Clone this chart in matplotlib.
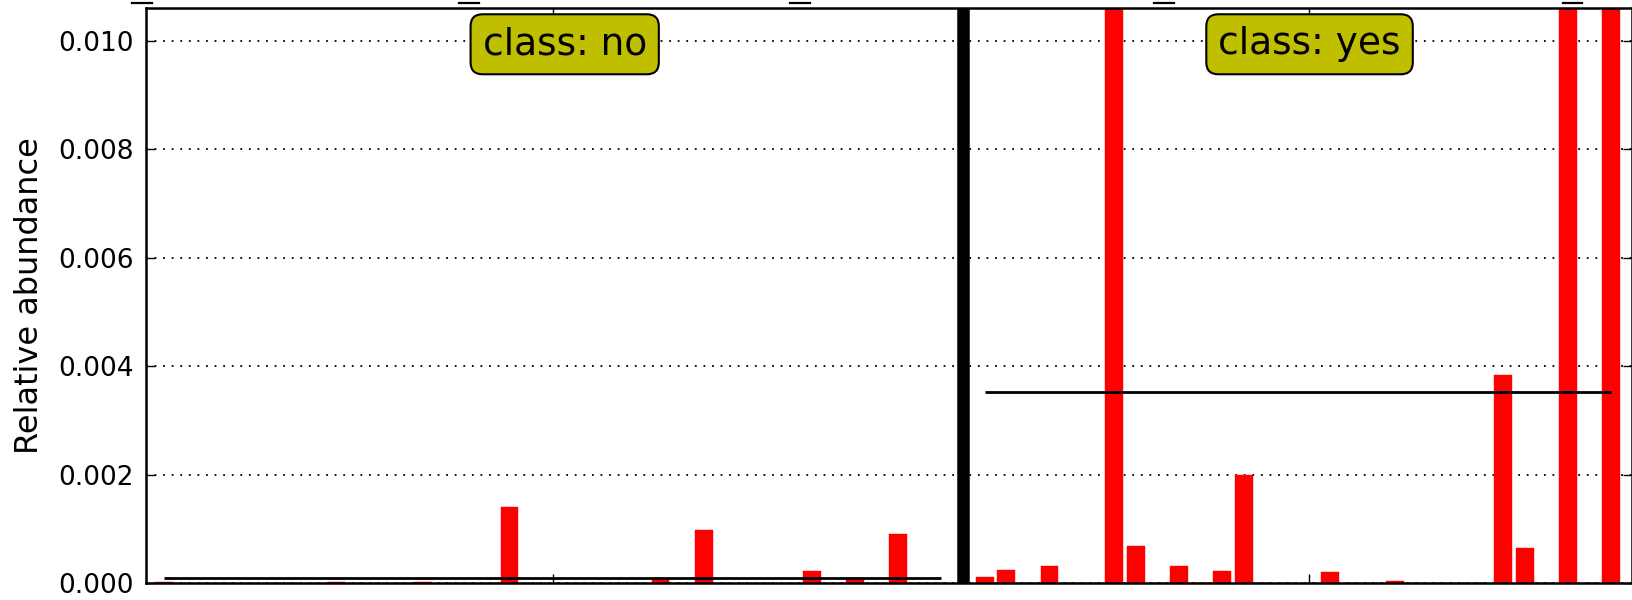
# We import the libraries we need
import numpy as np
import matplotlib
matplotlib.use("Agg")
import matplotlib.pyplot as plt
from matplotlib.lines import Line2D
from matplotlib.transforms import blended_transform_factory

# We keep the relative abundance of each sample, per class
class_names = ["no", "yes"]
no_vals = [0.00002, 0, 0, 0, 0, 0, 0, 0, 0.00002, 0,
           0, 0, 0.00002, 0, 0, 0, 0.00141, 0, 0, 0,
           0, 0, 0, 0.00008, 0, 0.00098, 0, 0, 0, 0,
           0.00023, 0, 0.00008, 0, 0.00091, 0, 0]
yes_vals = [0.00012, 0.000245, 0, 0.00032, 0, 0, 0.0305, 0.00069, 0, 0.00032,
            0, 0.000227, 0.002, 0, 0, 0, 0.000215, 0, 0, 0.00005,
            0, 0, 0, 0, 0.00384, 0.00065, 0, 0.0418, 0, 0.0247]
y_ticks = [0.000, 0.002, 0.004, 0.006, 0.008, 0.010]

# We place the samples one after the other, with an empty slot between classes
x_no = np.arange(len(no_vals))
sep = len(no_vals)
x_yes = np.arange(len(yes_vals)) + sep + 1

fig = plt.figure(figsize=(16.33, 6), dpi=100)
ax = fig.add_axes([0.0893, 0.0278, 0.9100, 0.9583])

ax.bar(x_no, no_vals, width=0.82, color="#ff0000", edgecolor="#ff0000", linewidth=0.3, zorder=2)
ax.bar(x_yes, yes_vals, width=0.82, color="#ff0000", edgecolor="#ff0000", linewidth=0.3, zorder=2)

# We draw the class means and the separator
ax.hlines(np.mean(no_vals), x_no[0], x_no[-1], color="black", lw=2, zorder=3)
ax.hlines(np.mean(yes_vals), x_yes[0], x_yes[-1], color="black", lw=2, zorder=3)
ax.axvline(sep, color="black", lw=9, zorder=4)

ax.set_xlim(-0.83, 67.96)
ax.set_ylim(0, 0.0106)
ax.set_yticks(y_ticks)
ax.set_yticklabels([f"{v:.3f}" for v in y_ticks], fontsize=19)
ax.set_xticks([np.mean(x_no), np.mean(x_yes) + 0.5])
ax.set_xticklabels([])
ax.tick_params(direction="in", length=6.5, width=1, top=True, right=True, pad=9)
ax.yaxis.grid(True, color="black", linestyle=(0, (1, 3.75)), lw=1.3, zorder=1)
ax.set_axisbelow(True)
for s in ax.spines.values():
    s.set_linewidth(1.8)

ax.set_ylabel("Relative abundance", fontsize=23)
ax.yaxis.set_label_coords(-0.068, 0.5)

# We label each class with a box near the top
trans = blended_transform_factory(ax.transData, ax.transAxes)
for name, xc in zip(class_names, [18.56, 53.04]):
    ax.text(xc, 0.9375, f"class: {name}", transform=trans, ha="center", va="center",
            fontsize=27, zorder=5,
            bbox=dict(boxstyle="round,pad=0.32", facecolor="#bfbf00", edgecolor="black", lw=1.5))

# We add the small marks above the plot
for x0, x1 in [(132, 152), (459, 479), (790, 810), (1154, 1174), (1563, 1582)]:
    fig.add_artist(Line2D([x0 / 1633, x1 / 1633], [0.995, 0.995], color="black", lw=1.6))

fig.savefig("out.png", dpi=100)
